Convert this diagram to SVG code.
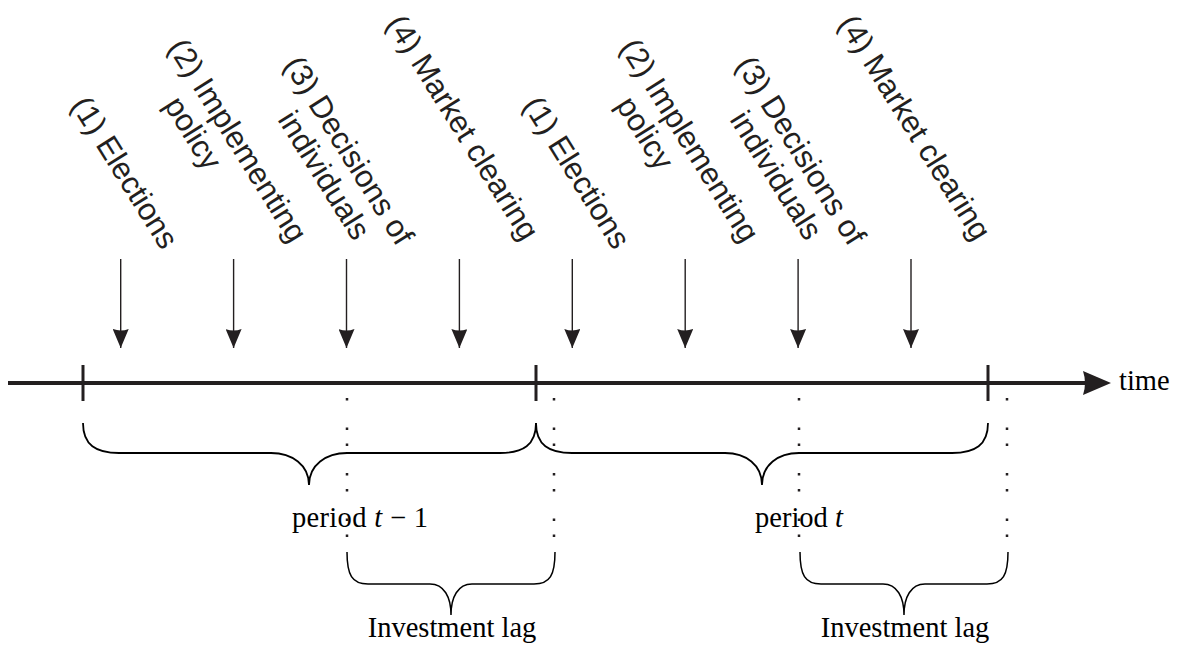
<svg xmlns="http://www.w3.org/2000/svg" width="1184" height="651" viewBox="0 0 1184 651">
<style>
.lbl{font-family:"Liberation Sans",Arial,sans-serif;font-size:31px;fill:#231f20;text-anchor:middle}
.ser{font-family:"Liberation Serif","Times New Roman",serif;font-size:28.5px;fill:#000}
.arr{stroke:#231f20;stroke-width:1.4;fill:none}
.tick{stroke:#231f20;stroke-width:3}
.dots{stroke:#231f20;stroke-width:2.5;stroke-dasharray:2.5 13.5 2.5 27;fill:none}
.brace{stroke:#000;fill:none;stroke-width:1.8}
</style>
<defs>
<marker id="ah" viewBox="0 0 19 16" refX="19" refY="8" markerWidth="19" markerHeight="16" markerUnits="userSpaceOnUse" orient="auto">
<path d="M0,0 L19,8 L0,16 Q3,8 0,0 Z" fill="#231f20"/>
</marker>
</defs>
<rect width="1184" height="651" fill="#fff"/>
<g id="labels-p1">
<g id="n1a" transform="translate(116,178) rotate(58)"><text class="lbl">(1) Elections</text></g>
<g id="n2a" transform="translate(229,146) rotate(58)"><text class="lbl">(2) Implementing</text><text class="lbl" x="-30" y="34">policy</text></g>
<g id="n3a" transform="translate(340,156) rotate(58)"><text class="lbl">(3) Decisions of</text><text class="lbl" x="8" y="34">individuals</text></g>
<g id="n4a" transform="translate(454,133) rotate(58)"><text class="lbl">(4) Market clearing</text></g>
</g>
<g id="labels-p2">
<g id="n1b" transform="translate(568,178) rotate(58)"><text class="lbl">(1) Elections</text></g>
<g id="n2b" transform="translate(681,146) rotate(58)"><text class="lbl">(2) Implementing</text><text class="lbl" x="-30" y="34">policy</text></g>
<g id="n3b" transform="translate(792,156) rotate(58)"><text class="lbl">(3) Decisions of</text><text class="lbl" x="8" y="34">individuals</text></g>
<g id="n4b" transform="translate(906,133) rotate(58)"><text class="lbl">(4) Market clearing</text></g>
</g>
<g id="connectors">
<line class="arr" x1="120.7" y1="259" x2="120.7" y2="348" marker-end="url(#ah)"/>
<line class="arr" x1="233.6" y1="259" x2="233.6" y2="348" marker-end="url(#ah)"/>
<line class="arr" x1="346.5" y1="259" x2="346.5" y2="348" marker-end="url(#ah)"/>
<line class="arr" x1="459.4" y1="259" x2="459.4" y2="348" marker-end="url(#ah)"/>
<line class="arr" x1="572.3" y1="259" x2="572.3" y2="348" marker-end="url(#ah)"/>
<line class="arr" x1="685.2" y1="259" x2="685.2" y2="348" marker-end="url(#ah)"/>
<line class="arr" x1="798.1" y1="259" x2="798.1" y2="348" marker-end="url(#ah)"/>
<line class="arr" x1="911" y1="259" x2="911" y2="348" marker-end="url(#ah)"/>
</g>
<g id="dotted">
<line class="dots" x1="347" y1="382" x2="347" y2="540"/>
<line class="dots" x1="554" y1="382" x2="554" y2="540"/>
<line class="dots" x1="799" y1="382" x2="799" y2="540"/>
<line class="dots" x1="1007" y1="382" x2="1007" y2="540"/>
</g>
<g id="timeline">
<line x1="8" y1="383" x2="1090" y2="383" stroke="#231f20" stroke-width="4"/>
<path d="M1083,371 L1111,383 L1083,395 Q1087,383 1083,371 Z" fill="#231f20"/>
<line class="tick" x1="83" y1="365" x2="83" y2="401"/>
<line class="tick" x1="536" y1="365" x2="536" y2="401"/>
<line class="tick" x1="988" y1="365" x2="988" y2="401"/>
<text class="ser" x="1119" y="390">time</text>
</g>
<g id="brace-p1">
<path class="brace" d="M83,423 C83,445 96,453 119,453 L271,453 C292,453 309,465 309,485 C309,465 326,453 347,453 L500,453 C523,453 536,445 536,423"/>
<text class="ser" x="292" y="527" textLength="136">period <tspan font-style="italic">t</tspan> − 1</text>
</g>
<g id="brace-p2">
<path class="brace" d="M536,423 C536,445 549,453 572,453 L725,453 C746,453 762,465 762,485 C762,465 778,453 799,453 L952,453 C975,453 988,445 988,423"/>
<text class="ser" x="755" y="527">period <tspan font-style="italic">t</tspan></text>
</g>
<g id="lag1">
<path class="brace" style="stroke-width:1.5" d="M347,552 C347,575 352,584 368,584 L430,584 C444,584 451,597 451,615 C451,597 458,584 472,584 L534,584 C550,584 555,575 555,552"/>
<text class="ser" x="452" y="637" text-anchor="middle">Investment lag</text>
</g>
<g id="lag2">
<path class="brace" style="stroke-width:1.5" d="M800,552 C800,575 805,584 821,584 L883,584 C897,584 904,597 904,615 C904,597 911,584 925,584 L987,584 C1003,584 1008,575 1008,552"/>
<text class="ser" x="905" y="637" text-anchor="middle">Investment lag</text>
</g>
</svg>
